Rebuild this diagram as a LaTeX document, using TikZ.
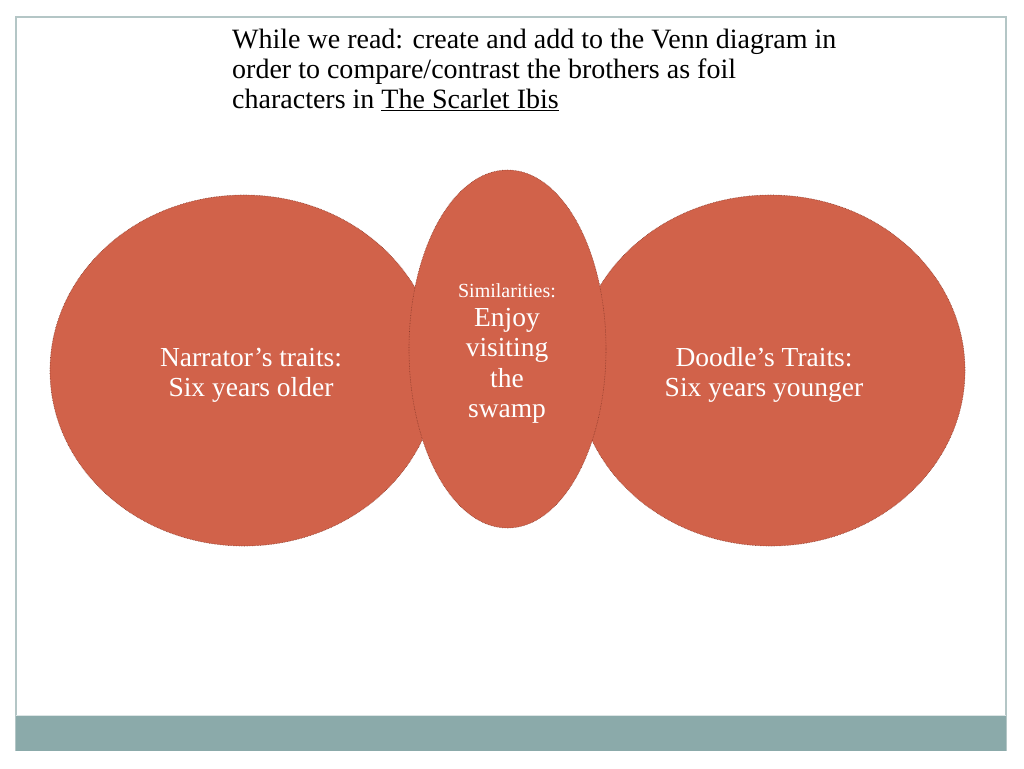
\documentclass[tikz,border=0pt]{standalone}
\usepackage{fontspec}
\setmainfont{Liberation Serif}
\begin{document}
\begin{tikzpicture}[x=1pt,y=-1pt,
  venn/.style={fill=vennfill, draw=venndraw, densely dotted, line width=0.6pt},
  vtext/.style={text=white, align=center, font=\fontsize{27.5}{30}\selectfont},
]
\definecolor{vennfill}{HTML}{D1624A}
\definecolor{venndraw}{HTML}{8A3A2A}
\definecolor{framecol}{HTML}{B4C6C6}
\definecolor{barcol}{HTML}{8BAAAA}
\useasboundingbox (0,0) rectangle (1024,768);
\fill[white] (0,0) rectangle (1024,768);
% frame
\draw[framecol, line width=1.2pt] (16,751) -- (16,17) -- (1006,17) -- (1006,751);
\fill[barcol] (16,715) rectangle (1006,751);
\draw[white!70!barcol, line width=1pt] (16,715) -- (1006,715);
% title
\node[anchor=north west, align=left, inner sep=0pt, font=\fontsize{28}{30}\selectfont] (title) at (232,28.5)
  {While we read: create and add to the Venn diagram in\\
   order to compare/contrast the brothers as foil\\
   characters in \underline{The Scarlet Ibis}};
% ellipses
\path[venn] (244,370.5) ellipse [x radius=194, y radius=175.5];
\path[venn] (770.5,370.5) ellipse [x radius=194.5, y radius=175.5];
\path[venn] (507.5,349) ellipse [x radius=98.5, y radius=179];
% texts
\node[vtext] (narr) at (251,375) {Narrator’s traits:\\Six years older};
\node[vtext] (dood) at (764,375) {Doodle’s Traits:\\Six years younger};
\node[text=white, font=\fontsize{20}{22}\selectfont] (sim) at (507,291) {Similarities:};
\node[vtext, font=\fontsize{27.5}{30.5}\selectfont] (enjoy) at (507,366) {Enjoy\\visiting\\the\\swamp};
\end{tikzpicture}
\end{document}
